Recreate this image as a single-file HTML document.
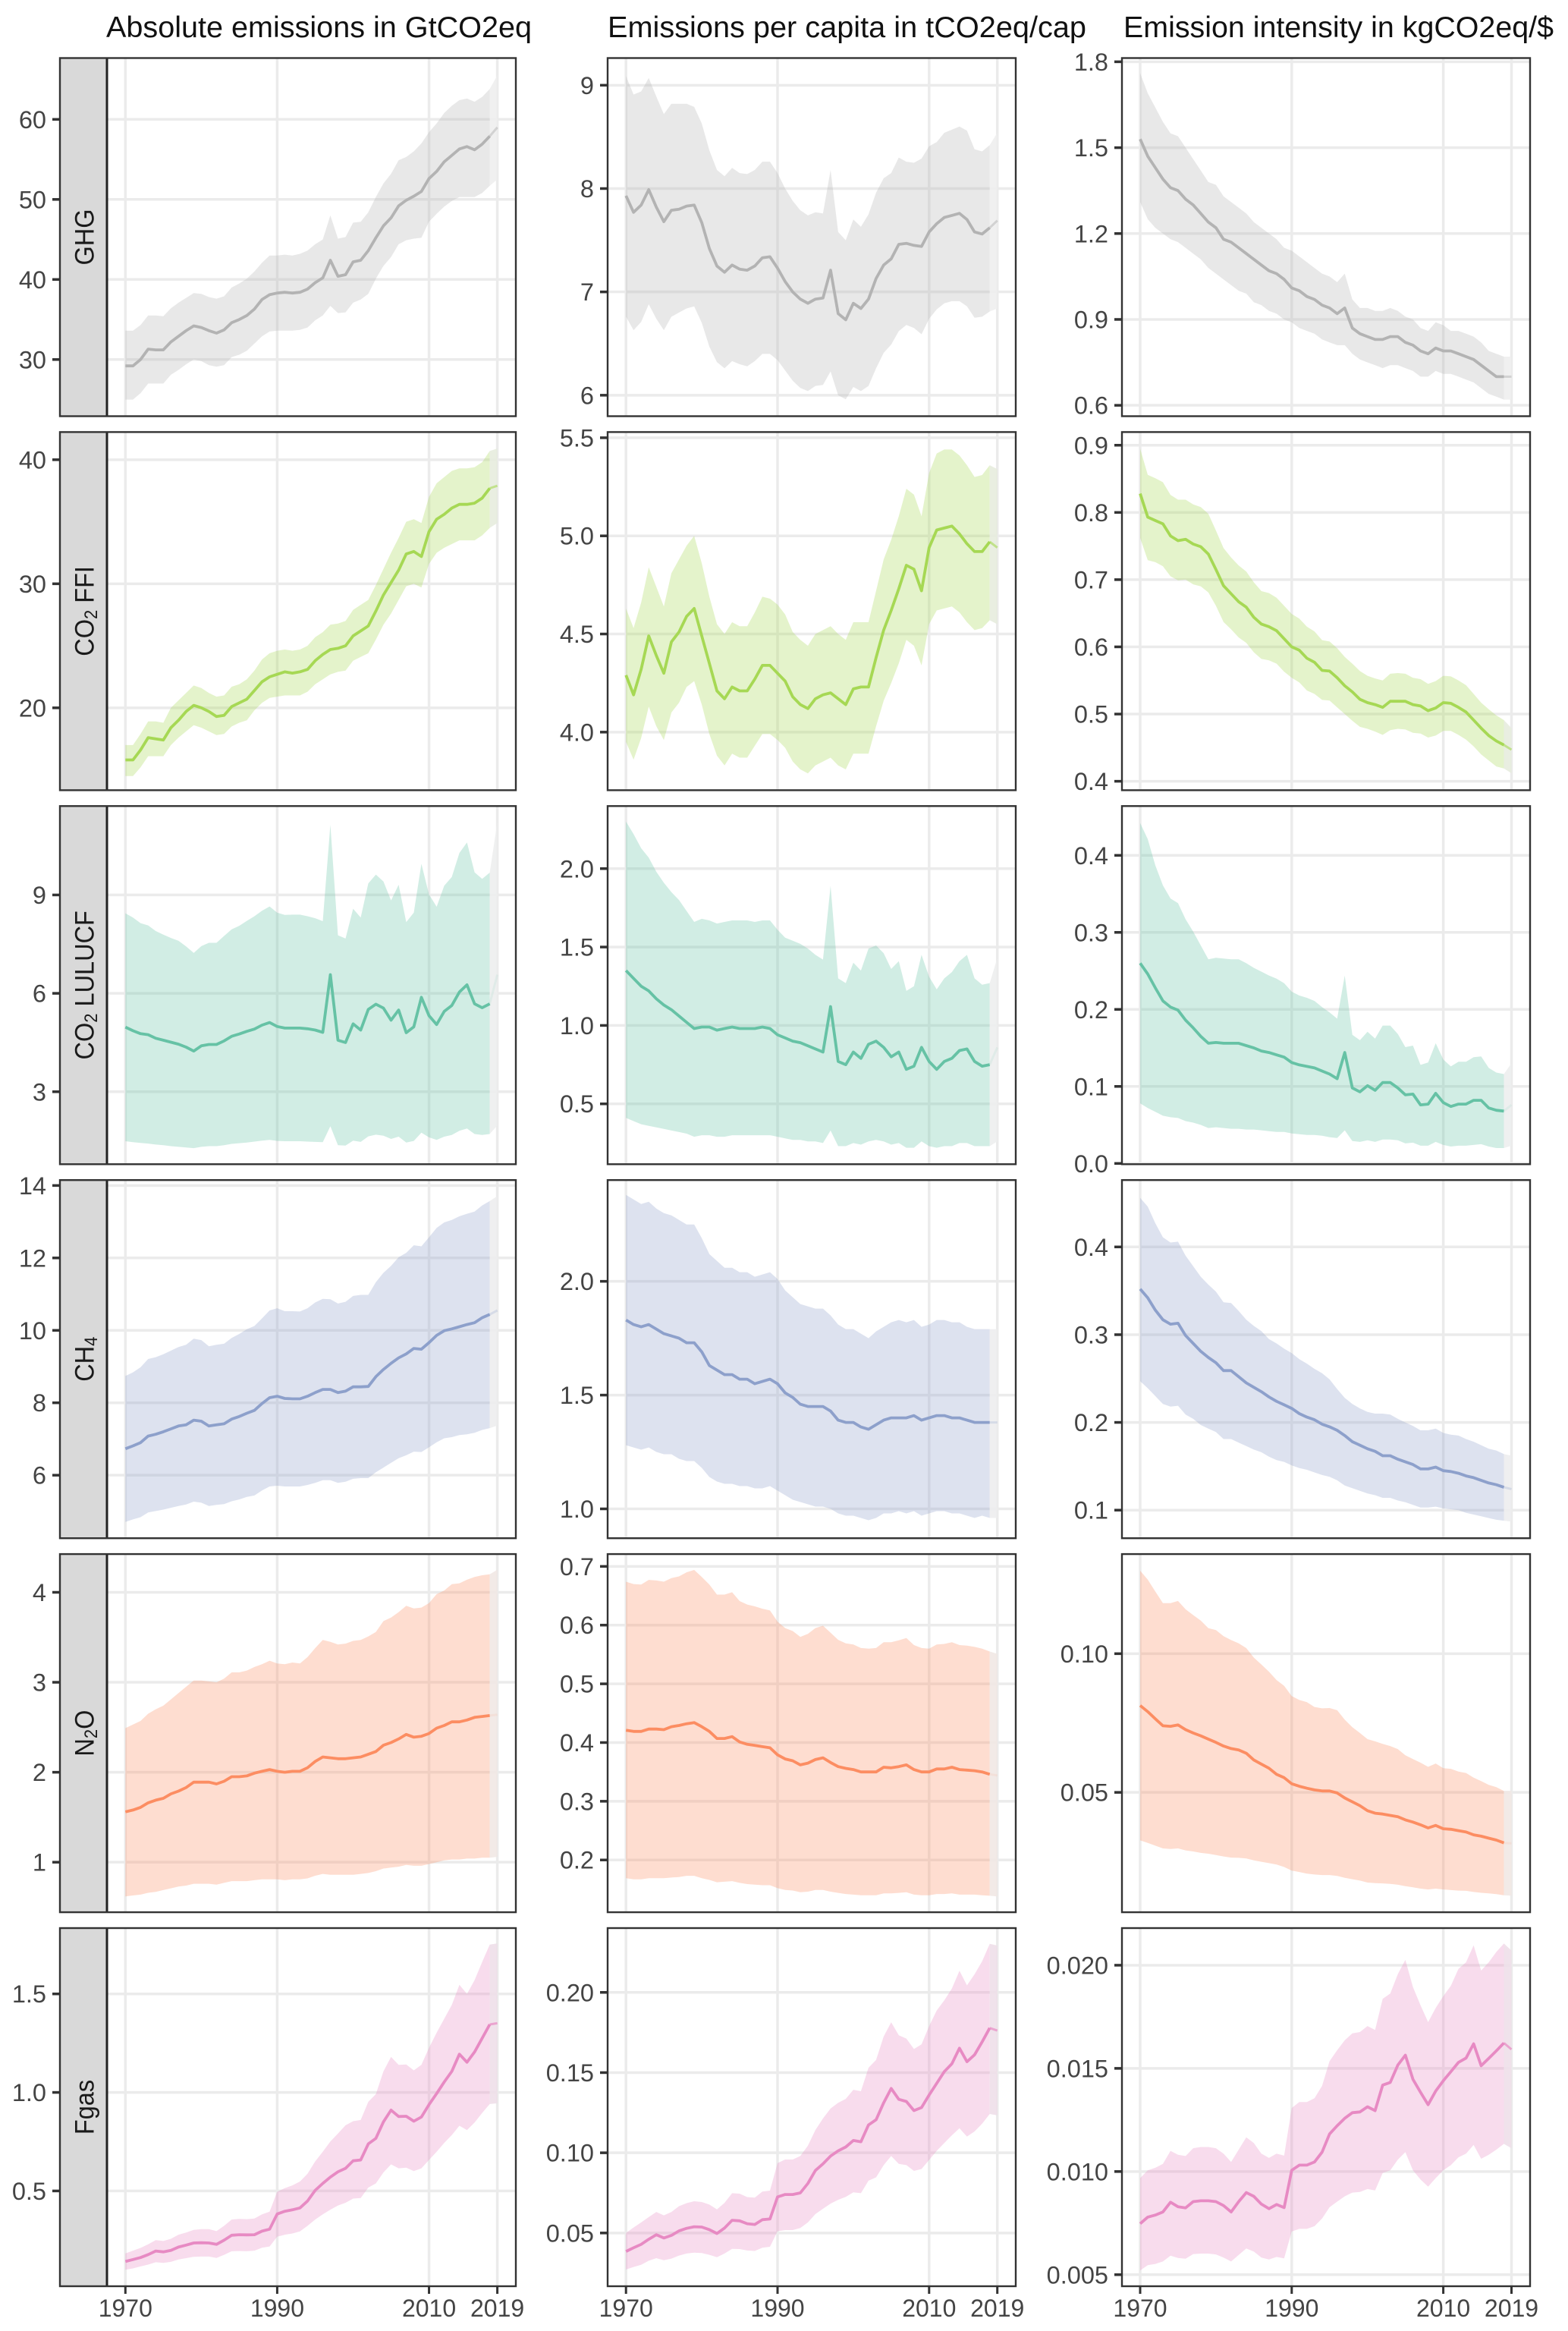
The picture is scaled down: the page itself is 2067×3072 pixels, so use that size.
<!DOCTYPE html>
<html lang="en">
<head>
<meta charset="utf-8">
<title>Emissions by gas, 1970-2019</title>
<style>
html,body{margin:0;padding:0;background:#fff;}
svg{display:block;font-family:"Liberation Sans",Arial,sans-serif;}
</style>
</head>
<body>
<svg id="chart" xmlns="http://www.w3.org/2000/svg" width="2067" height="3072" viewBox="0 0 2067 3072">
<rect x="0" y="0" width="2067" height="3072" fill="#fff"/>
<text x="140" y="49" font-size="39" fill="#111" textLength="561" lengthAdjust="spacingAndGlyphs">Absolute emissions in GtCO2eq</text>
<text x="801" y="49" font-size="39" fill="#111" textLength="631" lengthAdjust="spacingAndGlyphs">Emissions per capita in tCO2eq/cap</text>
<text x="1481" y="49" font-size="39" fill="#111" textLength="567" lengthAdjust="spacingAndGlyphs">Emission intensity in kgCO2eq/$</text>
</svg>
<script>
const years=[1970,1971,1972,1973,1974,1975,1976,1977,1978,1979,1980,1981,1982,1983,1984,1985,1986,1987,1988,1989,1990,1991,1992,1993,1994,1995,1996,1997,1998,1999,2000,2001,2002,2003,2004,2005,2006,2007,2008,2009,2010,2011,2012,2013,2014,2015,2016,2017,2018,2019];
const yearTicks=['1970','1990','2010','2019'];

const ghgAbsMean=[29.2,29.2,30,31.3,31.2,31.2,32.2,32.9,33.6,34.2,34,33.6,33.3,33.7,34.6,35,35.5,36.3,37.5,38.1,38.3,38.4,38.3,38.4,38.8,39.6,40.2,42.4,40.4,40.6,42.2,42.4,43.6,45.2,46.7,47.7,49.2,49.9,50.4,51,52.6,53.5,54.7,55.5,56.3,56.6,56.2,56.9,57.9,59];
const ghgAbsHigh=[33.6,33.6,34.3,35.5,35.5,35.4,36.4,37.1,37.7,38.3,38.2,37.8,37.6,37.9,39,39.5,40.1,41,42.1,43,43,43.1,43,43.2,43.6,44.4,45,48,45.1,45.3,47.1,47.2,48.4,50.3,52,53.2,54.9,55.3,56,57,58.4,59.5,60.8,61.7,62.4,62.6,62.2,62.8,63.8,65.5];
const ghgAbsLow=[25,25,25.8,27,27,27,28.1,28.7,29.4,30,29.8,29.3,29.1,29.3,30.3,30.6,31.1,32,32.9,33.5,33.6,33.6,33.6,33.7,34,34.9,35.5,36.7,35.8,35.9,37.1,37.5,38.2,40.1,41.7,42.8,44.4,44.9,45.1,45.2,47.2,48.2,49.1,49.8,50.3,50.3,50.3,50.8,51.7,52.5];
const ghgAbsDomain=[22.92,67.66];
const ghgAbsTicks=['30','40','50','60'];

const ffiAbsMean=[15.8,15.8,16.6,17.6,17.5,17.4,18.4,19,19.7,20.2,20,19.7,19.3,19.4,20.1,20.4,20.7,21.4,22.1,22.5,22.7,22.9,22.8,22.9,23.1,23.8,24.3,24.7,24.8,25,25.8,26.2,26.6,27.8,29.1,30.1,31.1,32.4,32.6,32.2,34.2,35.2,35.6,36.1,36.4,36.4,36.5,36.9,37.7,37.9];
const ffiAbsHigh=[17,17,17.9,18.9,18.9,18.8,20,20.6,21.2,21.8,21.6,21.2,20.9,21,21.7,21.9,22.3,23,23.9,24.4,24.6,24.7,24.6,24.7,25,25.7,26.1,26.7,26.8,27,27.9,28.3,28.7,29.9,31.2,32.5,33.7,35,35.2,34.9,37,38.1,38.6,39.1,39.3,39.3,39.4,39.8,40.7,40.9];
const ffiAbsLow=[14.5,14.5,15.2,16.1,16.1,16.1,17,17.6,18.1,18.6,18.4,18.1,17.8,17.9,18.5,18.8,19,19.8,20.4,20.8,20.9,21,21,21,21.3,21.9,22.3,22.7,22.9,23,23.8,24.1,24.4,25.5,26.7,27.6,28.7,29.8,30,29.7,31.6,32.5,32.9,33.2,33.5,33.5,33.5,33.9,34.5,34.9];
const ffiAbsDomain=[13.36,42.23];
const ffiAbsTicks=['20','30','40'];

const luAbsMean=[4.97,4.86,4.77,4.74,4.63,4.57,4.51,4.45,4.36,4.24,4.4,4.44,4.44,4.55,4.69,4.76,4.84,4.91,5.03,5.11,4.99,4.94,4.94,4.94,4.92,4.88,4.81,6.57,4.57,4.5,5.07,4.88,5.51,5.67,5.55,5.18,5.49,4.8,4.98,5.88,5.32,5.05,5.45,5.63,6.04,6.26,5.68,5.56,5.68,6.57];
const luAbsHigh=[8.44,8.31,8.14,8.07,7.9,7.79,7.69,7.6,7.43,7.23,7.44,7.54,7.54,7.75,7.95,8.06,8.21,8.35,8.52,8.65,8.46,8.39,8.4,8.4,8.35,8.29,8.2,11.14,7.77,7.67,8.58,8.31,9.35,9.62,9.41,8.83,9.31,8.17,8.46,9.95,9.02,8.64,9.28,9.55,10.28,10.6,9.69,9.49,9.68,11.22];
const luAbsLow=[1.49,1.46,1.44,1.42,1.39,1.37,1.34,1.32,1.3,1.28,1.32,1.34,1.34,1.37,1.41,1.43,1.45,1.48,1.51,1.53,1.5,1.49,1.49,1.49,1.48,1.47,1.46,1.95,1.37,1.36,1.51,1.47,1.64,1.69,1.66,1.56,1.63,1.45,1.5,1.75,1.61,1.53,1.63,1.68,1.81,1.88,1.71,1.68,1.71,1.97];
const luAbsDomain=[0.79,11.71];
const luAbsTicks=['3','6','9'];

const chAbsMean=[6.73,6.81,6.9,7.08,7.13,7.2,7.28,7.36,7.39,7.52,7.49,7.36,7.39,7.42,7.55,7.62,7.71,7.79,7.98,8.14,8.18,8.12,8.11,8.11,8.18,8.28,8.37,8.37,8.28,8.32,8.44,8.44,8.45,8.72,8.92,9.09,9.24,9.35,9.5,9.48,9.66,9.86,9.99,10.04,10.1,10.16,10.21,10.35,10.44,10.55];
const chAbsHigh=[8.74,8.84,8.98,9.21,9.26,9.34,9.44,9.54,9.6,9.77,9.73,9.56,9.6,9.63,9.79,9.9,10.03,10.12,10.33,10.55,10.61,10.53,10.53,10.52,10.61,10.77,10.87,10.86,10.74,10.79,10.95,10.98,10.98,11.33,11.59,11.78,12.02,12.14,12.35,12.32,12.57,12.83,12.98,13.05,13.15,13.22,13.28,13.45,13.57,13.71];
const chAbsLow=[4.71,4.78,4.84,4.97,5.01,5.05,5.1,5.15,5.19,5.27,5.24,5.15,5.18,5.2,5.28,5.33,5.4,5.44,5.58,5.69,5.71,5.69,5.69,5.69,5.73,5.79,5.86,5.86,5.79,5.82,5.9,5.92,5.92,6.08,6.21,6.34,6.47,6.55,6.65,6.64,6.77,6.91,7.02,7.05,7.11,7.13,7.17,7.25,7.3,7.37];
const chAbsDomain=[4.26,14.15];
const chAbsTicks=['6','8','10','12','14'];

const noAbsMean=[1.56,1.58,1.61,1.66,1.69,1.71,1.76,1.79,1.83,1.89,1.89,1.89,1.87,1.9,1.95,1.95,1.96,1.99,2.01,2.03,2.01,2,2.01,2.01,2.05,2.12,2.17,2.16,2.15,2.15,2.16,2.17,2.2,2.23,2.3,2.33,2.37,2.42,2.39,2.4,2.43,2.49,2.52,2.56,2.56,2.58,2.61,2.62,2.63,2.64];
const noAbsHigh=[2.49,2.53,2.57,2.65,2.7,2.74,2.81,2.88,2.95,3.02,3.02,3.01,3,3.04,3.11,3.11,3.13,3.17,3.2,3.24,3.21,3.2,3.22,3.21,3.28,3.38,3.47,3.45,3.42,3.43,3.46,3.47,3.51,3.56,3.68,3.72,3.78,3.85,3.82,3.83,3.88,3.98,4.02,4.09,4.1,4.14,4.17,4.19,4.2,4.25];
const noAbsLow=[0.62,0.63,0.64,0.66,0.67,0.69,0.71,0.73,0.74,0.76,0.76,0.76,0.75,0.77,0.79,0.79,0.79,0.8,0.81,0.81,0.81,0.8,0.81,0.81,0.82,0.85,0.87,0.86,0.86,0.86,0.86,0.87,0.88,0.9,0.93,0.94,0.95,0.97,0.96,0.96,0.98,1,1.02,1.03,1.03,1.04,1.04,1.05,1.05,1.06];
const noAbsDomain=[0.444,4.425];
const noAbsTicks=['1','2','3','4'];

const fgAbsMean=[0.142,0.152,0.162,0.177,0.195,0.191,0.198,0.215,0.225,0.236,0.237,0.236,0.229,0.25,0.275,0.278,0.277,0.278,0.296,0.306,0.383,0.397,0.404,0.414,0.449,0.503,0.538,0.57,0.597,0.615,0.653,0.657,0.739,0.767,0.851,0.91,0.878,0.879,0.854,0.875,0.938,0.994,1.053,1.107,1.194,1.153,1.205,1.275,1.345,1.351];
const fgAbsHigh=[0.183,0.197,0.211,0.229,0.25,0.246,0.257,0.278,0.289,0.302,0.306,0.306,0.296,0.323,0.355,0.358,0.357,0.36,0.381,0.395,0.496,0.514,0.528,0.548,0.587,0.65,0.699,0.751,0.791,0.833,0.854,0.86,0.952,0.992,1.107,1.18,1.14,1.142,1.112,1.14,1.226,1.303,1.374,1.444,1.546,1.5,1.57,1.662,1.75,1.756];
const fgAbsLow=[0.1,0.107,0.117,0.126,0.138,0.135,0.14,0.152,0.159,0.166,0.167,0.167,0.16,0.176,0.194,0.195,0.194,0.197,0.212,0.218,0.268,0.278,0.284,0.295,0.323,0.355,0.381,0.405,0.426,0.44,0.461,0.464,0.517,0.538,0.594,0.635,0.615,0.618,0.601,0.615,0.657,0.699,0.744,0.784,0.831,0.809,0.847,0.896,0.941,0.945];
const fgAbsDomain=[0.0164,1.834];
const fgAbsTicks=['0.5','1.0','1.5'];

const ghgCapMean=[7.93,7.77,7.84,7.99,7.82,7.68,7.79,7.8,7.83,7.84,7.67,7.42,7.25,7.19,7.26,7.22,7.21,7.25,7.33,7.34,7.23,7.1,7,6.93,6.89,6.93,6.94,7.21,6.79,6.73,6.89,6.84,6.93,7.13,7.26,7.32,7.46,7.47,7.45,7.44,7.58,7.66,7.72,7.74,7.76,7.7,7.58,7.56,7.62,7.69];
const ghgCapHigh=[9.09,8.91,8.94,9.07,8.89,8.72,8.82,8.82,8.82,8.79,8.63,8.37,8.18,8.12,8.2,8.15,8.14,8.18,8.26,8.26,8.15,8,7.88,7.79,7.74,7.77,7.76,8.18,7.58,7.5,7.7,7.63,7.75,7.96,8.1,8.15,8.3,8.26,8.25,8.29,8.41,8.45,8.54,8.57,8.6,8.56,8.38,8.36,8.42,8.54];
const ghgCapLow=[6.76,6.63,6.71,6.88,6.74,6.63,6.76,6.8,6.84,6.86,6.7,6.47,6.32,6.26,6.33,6.3,6.28,6.33,6.4,6.4,6.34,6.24,6.14,6.07,6.04,6.09,6.1,6.23,6,5.96,6.08,6.04,6.09,6.26,6.41,6.49,6.62,6.68,6.65,6.59,6.74,6.83,6.89,6.91,6.91,6.86,6.75,6.76,6.81,6.84];
const ghgCapDomain=[5.797,9.263];
const ghgCapTicks=['6','7','8','9'];

const ffiCapMean=[4.29,4.19,4.32,4.49,4.39,4.3,4.46,4.51,4.59,4.63,4.49,4.35,4.21,4.17,4.23,4.21,4.21,4.27,4.34,4.34,4.3,4.26,4.18,4.14,4.12,4.17,4.19,4.2,4.17,4.14,4.22,4.23,4.23,4.38,4.52,4.62,4.73,4.85,4.83,4.72,4.94,5.03,5.04,5.05,5.01,4.96,4.92,4.92,4.97,4.94];
const ffiCapHigh=[4.63,4.53,4.66,4.84,4.74,4.64,4.81,4.88,4.95,5,4.86,4.69,4.55,4.5,4.56,4.54,4.54,4.61,4.69,4.68,4.65,4.6,4.51,4.47,4.44,4.5,4.52,4.54,4.5,4.47,4.56,4.56,4.56,4.72,4.88,4.98,5.1,5.24,5.21,5.1,5.32,5.42,5.44,5.44,5.41,5.36,5.3,5.31,5.36,5.34];
const ffiCapLow=[3.95,3.86,3.97,4.13,4.03,3.96,4.1,4.15,4.23,4.26,4.14,3.99,3.88,3.83,3.89,3.87,3.87,3.93,3.99,3.99,3.96,3.92,3.85,3.81,3.79,3.83,3.85,3.87,3.83,3.81,3.89,3.89,3.89,4.03,4.16,4.25,4.35,4.47,4.44,4.34,4.55,4.62,4.63,4.64,4.61,4.56,4.52,4.53,4.57,4.55];
const ffiCapDomain=[3.704,5.529];
const ffiCapTicks=['4.0','4.5','5.0','5.5'];

const luCapMean=[1.35,1.3,1.25,1.22,1.17,1.13,1.1,1.06,1.02,0.98,0.99,0.99,0.97,0.98,0.99,0.98,0.98,0.98,0.99,0.98,0.94,0.92,0.9,0.89,0.87,0.85,0.83,1.12,0.77,0.75,0.83,0.79,0.88,0.9,0.86,0.8,0.83,0.72,0.74,0.86,0.77,0.72,0.77,0.79,0.84,0.85,0.77,0.74,0.75,0.86];
const luCapHigh=[2.3,2.22,2.13,2.07,1.98,1.91,1.85,1.8,1.73,1.66,1.68,1.67,1.65,1.66,1.67,1.67,1.67,1.66,1.67,1.67,1.61,1.56,1.54,1.52,1.49,1.45,1.42,1.89,1.3,1.27,1.4,1.35,1.49,1.51,1.46,1.36,1.41,1.22,1.25,1.45,1.31,1.23,1.3,1.34,1.41,1.45,1.3,1.26,1.27,1.43];
const luCapLow=[0.41,0.39,0.37,0.36,0.35,0.34,0.33,0.32,0.31,0.29,0.3,0.3,0.29,0.29,0.3,0.3,0.3,0.3,0.3,0.3,0.29,0.28,0.27,0.27,0.26,0.26,0.25,0.33,0.23,0.23,0.25,0.24,0.26,0.27,0.26,0.24,0.25,0.22,0.22,0.26,0.23,0.22,0.23,0.23,0.25,0.25,0.23,0.23,0.23,0.26];
const luCapDomain=[0.115,2.399];
const luCapTicks=['0.5','1.0','1.5','2.0'];

const chCapMean=[1.83,1.81,1.8,1.81,1.79,1.77,1.76,1.75,1.73,1.73,1.69,1.63,1.61,1.59,1.59,1.57,1.57,1.55,1.56,1.57,1.55,1.51,1.49,1.46,1.45,1.45,1.45,1.43,1.39,1.38,1.38,1.36,1.35,1.37,1.39,1.4,1.4,1.4,1.41,1.39,1.4,1.41,1.41,1.4,1.4,1.39,1.38,1.38,1.38,1.38];
const chCapHigh=[2.38,2.36,2.34,2.35,2.32,2.3,2.29,2.27,2.25,2.25,2.19,2.12,2.09,2.06,2.06,2.04,2.04,2.02,2.03,2.04,2.01,1.96,1.93,1.9,1.89,1.88,1.88,1.85,1.81,1.79,1.79,1.77,1.75,1.78,1.8,1.82,1.83,1.82,1.83,1.8,1.81,1.83,1.83,1.82,1.82,1.8,1.79,1.79,1.79,1.79];
const chCapLow=[1.28,1.27,1.26,1.27,1.25,1.24,1.24,1.22,1.21,1.21,1.18,1.14,1.12,1.11,1.11,1.1,1.1,1.09,1.09,1.1,1.08,1.06,1.04,1.03,1.02,1.01,1.01,1,0.98,0.97,0.97,0.96,0.95,0.96,0.98,0.98,0.99,0.98,0.99,0.97,0.98,0.99,0.99,0.98,0.98,0.97,0.96,0.97,0.96,0.96];
const chCapDomain=[0.871,2.445];
const chCapTicks=['1.0','1.5','2.0'];

const noCapMean=[0.421,0.419,0.419,0.423,0.423,0.422,0.427,0.429,0.432,0.434,0.427,0.419,0.407,0.407,0.41,0.401,0.397,0.395,0.393,0.391,0.379,0.372,0.369,0.362,0.365,0.371,0.374,0.366,0.359,0.356,0.354,0.35,0.35,0.35,0.358,0.357,0.359,0.362,0.354,0.35,0.35,0.355,0.355,0.358,0.354,0.353,0.352,0.35,0.346,0.344];
const noCapHigh=[0.674,0.67,0.669,0.677,0.676,0.674,0.68,0.683,0.69,0.694,0.682,0.669,0.652,0.652,0.656,0.641,0.635,0.632,0.628,0.625,0.606,0.595,0.59,0.58,0.585,0.595,0.599,0.587,0.575,0.569,0.567,0.561,0.56,0.561,0.571,0.571,0.574,0.578,0.566,0.561,0.56,0.567,0.568,0.571,0.566,0.565,0.563,0.56,0.555,0.551];
const noCapLow=[0.169,0.167,0.167,0.169,0.169,0.169,0.17,0.171,0.173,0.173,0.169,0.166,0.162,0.163,0.164,0.161,0.159,0.158,0.157,0.157,0.152,0.149,0.148,0.145,0.146,0.149,0.149,0.146,0.144,0.142,0.141,0.14,0.14,0.14,0.143,0.143,0.144,0.145,0.141,0.14,0.14,0.142,0.142,0.143,0.141,0.141,0.141,0.14,0.139,0.138];
const noCapDomain=[0.111,0.721];
const noCapTicks=['0.2','0.3','0.4','0.5','0.6','0.7'];

const fgCapMean=[0.0385,0.0408,0.0429,0.0461,0.0489,0.0469,0.0485,0.0513,0.0529,0.0539,0.0537,0.0521,0.0497,0.0531,0.0579,0.0576,0.0558,0.0553,0.0583,0.0587,0.0725,0.074,0.074,0.075,0.0809,0.089,0.0931,0.098,0.1012,0.1036,0.1077,0.1069,0.1174,0.1206,0.1312,0.1401,0.1333,0.132,0.1263,0.1282,0.136,0.1433,0.1506,0.1555,0.1652,0.1568,0.1611,0.1692,0.1778,0.1762];
const fgCapHigh=[0.05,0.0534,0.0566,0.0599,0.0631,0.061,0.0631,0.0667,0.0686,0.0698,0.0693,0.0677,0.0647,0.0688,0.0748,0.0745,0.0724,0.072,0.0758,0.0764,0.0936,0.0958,0.0958,0.098,0.1044,0.1142,0.1214,0.1276,0.1312,0.1336,0.1393,0.1384,0.153,0.1579,0.1725,0.1814,0.1733,0.1712,0.1647,0.1676,0.179,0.1887,0.195,0.2024,0.2135,0.2044,0.2113,0.2194,0.2303,0.2292];
const fgCapLow=[0.0272,0.0288,0.0302,0.0327,0.0343,0.033,0.034,0.0359,0.0372,0.0377,0.0375,0.0364,0.0349,0.0372,0.0401,0.04,0.0391,0.0388,0.0408,0.0414,0.0511,0.0518,0.0518,0.0531,0.0566,0.0618,0.0651,0.0683,0.0707,0.0725,0.0753,0.0748,0.0826,0.0847,0.0923,0.098,0.0931,0.0923,0.0887,0.0899,0.0955,0.1012,0.1061,0.1109,0.1153,0.1101,0.1133,0.1182,0.1242,0.1234];
const fgCapDomain=[0.0168,0.2401];
const fgCapTicks=['0.05','0.10','0.15','0.20'];

const ghgIntMean=[1.53,1.47,1.43,1.39,1.36,1.35,1.32,1.3,1.27,1.24,1.22,1.18,1.17,1.15,1.13,1.11,1.09,1.07,1.06,1.04,1.01,1,0.98,0.97,0.95,0.94,0.92,0.94,0.87,0.85,0.84,0.83,0.83,0.84,0.84,0.82,0.81,0.79,0.78,0.8,0.79,0.79,0.78,0.77,0.76,0.74,0.72,0.7,0.7,0.7];
const ghgIntHigh=[1.76,1.69,1.64,1.59,1.55,1.54,1.5,1.46,1.42,1.38,1.37,1.33,1.31,1.29,1.27,1.24,1.22,1.2,1.18,1.15,1.14,1.12,1.1,1.08,1.06,1.05,1.03,1.06,0.97,0.94,0.94,0.93,0.93,0.94,0.93,0.91,0.9,0.87,0.86,0.89,0.88,0.86,0.86,0.85,0.84,0.82,0.79,0.78,0.77,0.77];
const ghgIntLow=[1.31,1.25,1.22,1.2,1.18,1.17,1.15,1.13,1.11,1.08,1.06,1.04,1.02,1,0.99,0.96,0.95,0.93,0.92,0.9,0.89,0.87,0.86,0.85,0.83,0.82,0.81,0.81,0.78,0.76,0.75,0.74,0.73,0.74,0.74,0.73,0.72,0.7,0.7,0.72,0.71,0.71,0.7,0.69,0.68,0.66,0.64,0.63,0.62,0.62];
const ghgIntDomain=[0.562,1.813];
const ghgIntTicks=['0.6','0.9','1.2','1.5','1.8'];

const ffiIntMean=[0.828,0.793,0.788,0.783,0.765,0.758,0.76,0.753,0.749,0.738,0.715,0.691,0.679,0.667,0.659,0.644,0.634,0.63,0.624,0.612,0.6,0.595,0.583,0.577,0.565,0.564,0.554,0.542,0.533,0.522,0.517,0.514,0.51,0.519,0.519,0.519,0.514,0.512,0.505,0.509,0.517,0.516,0.51,0.503,0.491,0.479,0.468,0.46,0.454,0.447];
const ffiIntHigh=[0.895,0.856,0.851,0.845,0.826,0.819,0.819,0.812,0.808,0.798,0.773,0.747,0.733,0.721,0.712,0.696,0.683,0.68,0.673,0.661,0.649,0.642,0.63,0.623,0.61,0.608,0.598,0.585,0.575,0.564,0.557,0.553,0.55,0.56,0.561,0.56,0.554,0.552,0.545,0.549,0.557,0.556,0.55,0.543,0.53,0.517,0.507,0.498,0.491,0.479];
const ffiIntLow=[0.762,0.729,0.726,0.72,0.705,0.699,0.7,0.693,0.69,0.681,0.661,0.637,0.626,0.614,0.606,0.592,0.582,0.58,0.575,0.563,0.554,0.547,0.535,0.53,0.521,0.52,0.51,0.5,0.49,0.481,0.478,0.474,0.469,0.476,0.478,0.477,0.472,0.471,0.465,0.468,0.475,0.475,0.469,0.462,0.452,0.44,0.431,0.422,0.419,0.412];
const ffiIntDomain=[0.3867,0.9196];
const ffiIntTicks=['0.4','0.5','0.6','0.7','0.8','0.9'];

const luIntMean=[0.26,0.246,0.228,0.211,0.203,0.199,0.186,0.176,0.165,0.156,0.157,0.156,0.156,0.156,0.153,0.15,0.146,0.144,0.141,0.138,0.131,0.128,0.126,0.124,0.12,0.116,0.11,0.144,0.098,0.093,0.101,0.095,0.105,0.105,0.098,0.089,0.09,0.076,0.077,0.091,0.079,0.074,0.077,0.077,0.082,0.082,0.072,0.069,0.068,0.076];
const luIntHigh=[0.442,0.421,0.387,0.361,0.344,0.338,0.317,0.301,0.283,0.265,0.267,0.266,0.265,0.265,0.26,0.254,0.249,0.244,0.24,0.234,0.223,0.218,0.215,0.211,0.203,0.196,0.188,0.244,0.167,0.16,0.171,0.162,0.179,0.179,0.168,0.151,0.153,0.128,0.131,0.156,0.135,0.126,0.132,0.132,0.138,0.139,0.124,0.118,0.116,0.13];
const luIntLow=[0.078,0.072,0.067,0.062,0.06,0.059,0.055,0.053,0.05,0.046,0.047,0.046,0.045,0.045,0.044,0.044,0.043,0.042,0.041,0.041,0.039,0.038,0.037,0.037,0.036,0.034,0.033,0.043,0.029,0.028,0.03,0.028,0.031,0.031,0.03,0.026,0.027,0.023,0.023,0.028,0.024,0.022,0.023,0.023,0.024,0.025,0.022,0.02,0.02,0.023];
const luIntDomain=[-0.001,0.464];
const luIntTicks=['0.0','0.1','0.2','0.3','0.4'];

const chIntMean=[0.352,0.342,0.328,0.317,0.312,0.313,0.299,0.29,0.281,0.274,0.268,0.259,0.259,0.252,0.245,0.24,0.235,0.229,0.224,0.22,0.216,0.21,0.206,0.203,0.198,0.195,0.191,0.185,0.178,0.174,0.17,0.167,0.162,0.162,0.158,0.155,0.152,0.147,0.147,0.149,0.145,0.144,0.142,0.139,0.137,0.134,0.131,0.129,0.126,0.124];
const chIntHigh=[0.456,0.446,0.427,0.411,0.405,0.406,0.39,0.378,0.366,0.357,0.349,0.337,0.336,0.327,0.317,0.31,0.304,0.295,0.29,0.284,0.279,0.272,0.267,0.261,0.256,0.249,0.238,0.228,0.221,0.216,0.212,0.21,0.21,0.209,0.204,0.2,0.196,0.191,0.191,0.193,0.188,0.186,0.185,0.181,0.178,0.174,0.17,0.168,0.164,0.162];
const chIntLow=[0.247,0.239,0.23,0.221,0.218,0.219,0.209,0.204,0.197,0.193,0.189,0.181,0.181,0.177,0.173,0.169,0.166,0.161,0.157,0.155,0.151,0.148,0.146,0.143,0.14,0.138,0.134,0.128,0.125,0.122,0.119,0.117,0.114,0.114,0.111,0.109,0.106,0.103,0.103,0.104,0.102,0.101,0.1,0.097,0.095,0.093,0.091,0.089,0.088,0.087];
const chIntDomain=[0.068,0.4762];
const chIntTicks=['0.1','0.2','0.3','0.4'];

const noIntMean=[0.0813,0.0791,0.0765,0.074,0.0738,0.0743,0.0726,0.0714,0.0704,0.0692,0.068,0.0667,0.0658,0.0653,0.0641,0.0617,0.0602,0.0587,0.0565,0.0553,0.0531,0.0522,0.0515,0.0509,0.0505,0.0505,0.0498,0.048,0.0466,0.0452,0.0434,0.0425,0.0422,0.0417,0.0412,0.0401,0.0393,0.0383,0.0372,0.0381,0.0369,0.0367,0.0362,0.0357,0.0347,0.0342,0.0335,0.0328,0.0318,0.0316];
const noIntHigh=[0.1299,0.1267,0.1224,0.1182,0.1182,0.119,0.116,0.1139,0.1119,0.1092,0.1085,0.1063,0.1049,0.1037,0.102,0.0986,0.0961,0.0935,0.0905,0.0884,0.0847,0.0833,0.0825,0.0808,0.0803,0.0804,0.0796,0.0762,0.0735,0.0714,0.0692,0.0684,0.0675,0.0667,0.0656,0.0634,0.062,0.0607,0.0592,0.0604,0.0587,0.0585,0.0575,0.057,0.0553,0.0541,0.0527,0.0519,0.0505,0.0505];
const noIntLow=[0.0327,0.0318,0.0308,0.0298,0.0296,0.0298,0.0291,0.0287,0.0282,0.0279,0.0274,0.0269,0.0265,0.0264,0.0262,0.0255,0.025,0.0245,0.024,0.0231,0.0218,0.0213,0.0207,0.0204,0.0202,0.0202,0.0199,0.0192,0.0187,0.0182,0.0175,0.0173,0.0172,0.017,0.0167,0.0162,0.0158,0.0153,0.015,0.0153,0.015,0.0148,0.0146,0.0145,0.0141,0.0138,0.0136,0.0133,0.0129,0.0128];
const noIntDomain=[0.0068,0.1359];
const noIntTicks=['0.05','0.10'];

const fgIntMean=[0.00747,0.00779,0.00789,0.00804,0.00851,0.00829,0.00824,0.00854,0.00858,0.00858,0.00854,0.00835,0.00804,0.00854,0.00898,0.0088,0.00842,0.0082,0.0084,0.00825,0.01006,0.01031,0.01031,0.01046,0.01094,0.01182,0.01222,0.01258,0.01285,0.01289,0.01314,0.01295,0.01419,0.01432,0.01516,0.01564,0.01447,0.01384,0.01324,0.0139,0.0144,0.01484,0.01529,0.0155,0.01619,0.01513,0.01548,0.01585,0.01623,0.01592];
const fgIntHigh=[0.00968,0.01006,0.01018,0.01037,0.011,0.01081,0.01075,0.01113,0.01119,0.01119,0.01113,0.01087,0.01046,0.01106,0.01166,0.01138,0.01087,0.01066,0.01087,0.01077,0.01308,0.01337,0.01337,0.01355,0.01415,0.01535,0.01588,0.01636,0.0167,0.01676,0.01705,0.01686,0.01837,0.01863,0.01957,0.02026,0.01894,0.01806,0.01724,0.01793,0.0185,0.019,0.01982,0.02014,0.02096,0.01974,0.02014,0.02064,0.02105,0.02071];
const fgIntLow=[0.0052,0.00546,0.00552,0.00564,0.00592,0.00581,0.00577,0.006,0.00602,0.00602,0.00598,0.00583,0.00564,0.00596,0.00627,0.00612,0.00583,0.00574,0.00586,0.00579,0.00709,0.00722,0.00722,0.00735,0.00772,0.00827,0.00854,0.0088,0.00898,0.00901,0.00915,0.00908,0.00993,0.01006,0.01058,0.01094,0.01006,0.00961,0.00927,0.00968,0.01006,0.01031,0.01069,0.01087,0.01129,0.01062,0.01081,0.01106,0.01134,0.01113];
const fgIntDomain=[0.00444,0.0218];
const fgIntTicks=['0.005','0.010','0.015','0.020'];

const gasNames=['ghg','co2-ffi','co2-lulucf','ch4','n2o','fgas'];
const gasLabels=[['GHG','',''],['CO','2',' FFI'],['CO','2',' LULUCF'],['CH','4',''],['N','2','O'],['Fgas','','']];
const metricNames=['absolute','per-capita','intensity'];
const gasColors=['#b3b3b3','#a6d854','#66c2a5','#8da0cb','#fc8d62','#e78ac3'];
const finalYearTint=[0.02,0.1,0.01,0.02,0.07,0.14];
const finalLineFade=[0.5,0.6,0.1,0.25,0.1,0.7];

const panelGrid=[
 [[ghgAbsMean,ghgAbsLow,ghgAbsHigh,ghgAbsDomain,ghgAbsTicks],[ghgCapMean,ghgCapLow,ghgCapHigh,ghgCapDomain,ghgCapTicks],[ghgIntMean,ghgIntLow,ghgIntHigh,ghgIntDomain,ghgIntTicks]],
 [[ffiAbsMean,ffiAbsLow,ffiAbsHigh,ffiAbsDomain,ffiAbsTicks],[ffiCapMean,ffiCapLow,ffiCapHigh,ffiCapDomain,ffiCapTicks],[ffiIntMean,ffiIntLow,ffiIntHigh,ffiIntDomain,ffiIntTicks]],
 [[luAbsMean,luAbsLow,luAbsHigh,luAbsDomain,luAbsTicks],[luCapMean,luCapLow,luCapHigh,luCapDomain,luCapTicks],[luIntMean,luIntLow,luIntHigh,luIntDomain,luIntTicks]],
 [[chAbsMean,chAbsLow,chAbsHigh,chAbsDomain,chAbsTicks],[chCapMean,chCapLow,chCapHigh,chCapDomain,chCapTicks],[chIntMean,chIntLow,chIntHigh,chIntDomain,chIntTicks]],
 [[noAbsMean,noAbsLow,noAbsHigh,noAbsDomain,noAbsTicks],[noCapMean,noCapLow,noCapHigh,noCapDomain,noCapTicks],[noIntMean,noIntLow,noIntHigh,noIntDomain,noIntTicks]],
 [[fgAbsMean,fgAbsLow,fgAbsHigh,fgAbsDomain,fgAbsTicks],[fgCapMean,fgCapLow,fgCapHigh,fgCapDomain,fgCapTicks],[fgIntMean,fgIntLow,fgIntHigh,fgIntDomain,fgIntTicks]]
];

(function(){
 const NS='http://www.w3.org/2000/svg';
 const svg=document.getElementById('chart');
 const frameLeft=[79,801,1479], frameRight=[680,1339,2017];
 const x1970=[165.3,825.2,1503], x2019=[655.6,1314.7,1992.5];
 const rowTop=492.9, firstTop=76.5, panelH=472, stripRight=141;
 function el(tag,attrs,parent){
  const e=document.createElementNS(NS,tag);
  for(const k in attrs){e.setAttribute(k,attrs[k]);}
  parent.appendChild(e);
  return e;
 }
 function poly(xs,ys){
  return xs.map((x,i)=>(i?'L':'M')+x.toFixed(1)+' '+ys[i].toFixed(1)).join('');
 }
 panelGrid.forEach((row,r)=>{
  row.forEach((cell,c)=>{
   const mean=cell[0],low=cell[1],high=cell[2],domain=cell[3],ticks=cell[4];
   const top=firstTop+rowTop*r, bottom=top+panelH;
   const left=frameLeft[c], right=frameRight[c];
   const innerLeft=c===0?stripRight:left;
   const color=gasColors[r];
   const xScale=y=>x1970[c]+(y-1970)*(x2019[c]-x1970[c])/49;
   const yScale=v=>bottom-(v-domain[0])/(domain[1]-domain[0])*panelH;
   const g=el('g',{},svg);
   
   
   ticks.forEach(t=>{
    const y=yScale(Number(t));
    const grid=el('line',{x1:innerLeft,x2:right,y1:y,y2:y,stroke:'#ebebeb','stroke-width':3.5},g);
    
    
    const mark=el('line',{x1:left-10,x2:left,y1:y,y2:y,stroke:'#333','stroke-width':3.5},g);
    
    
    const lab=el('text',{x:left-18,y:y+11.5,'text-anchor':'end','font-size':32.5,fill:'#444'},g);
    lab.textContent=t;
    
    
   });
   yearTicks.forEach(t=>{
    const x=xScale(Number(t));
    const grid=el('line',{x1:x,x2:x,y1:top+1,y2:bottom,stroke:'#ebebeb','stroke-width':3.5},g);
    
    
    if(r===panelGrid.length-1){
     const mark=el('line',{x1:x,x2:x,y1:bottom,y2:bottom+10,stroke:'#333','stroke-width':3},g);
     
     
     const lab=el('text',{x:x,y:bottom+40,'text-anchor':'middle','font-size':32,fill:'#444'},g);
     lab.textContent=t;
     
     
    }
   });
   const n=years.length;
   const xs=years.map(xScale), hi=high.map(yScale), lo=low.map(yScale), me=mean.map(yScale);
   const mainX=xs.slice(0,n-1);
   const ribbonD=poly(mainX.concat(mainX.slice().reverse()),hi.slice(0,n-1).concat(lo.slice(0,n-1).reverse()))+'Z';
   const ribbon=el('path',{d:ribbonD,fill:color,'fill-opacity':0.3},g);
   
   
   const lastX=[xs[n-2],xs[n-1],xs[n-1],xs[n-2]];
   const lastY=[hi[n-2],hi[n-1],lo[n-1],lo[n-2]];
   const lastGrey=el('path',{d:poly(lastX,lastY)+'Z',fill:'#f0f0f0','fill-opacity':0.9},g);
   
   
   const lastTint=el('path',{d:poly(lastX,lastY)+'Z',fill:color,'fill-opacity':finalYearTint[r]},g);
   
   
   const line=el('path',{d:poly(mainX,me.slice(0,n-1)),fill:'none',stroke:color,'stroke-width':3.8,'stroke-linejoin':'round'},g);
   
   
   const lastLine=el('path',{d:poly(xs.slice(n-2),me.slice(n-2)),fill:'none',stroke:color,'stroke-width':3,'stroke-opacity':finalLineFade[r]},g);
   
   
   if(c===0){
    const strip=el('rect',{x:left,y:top,width:stripRight-left,height:panelH,fill:'#d9d9d9'},g);
    
    
    const sep=el('line',{x1:stripRight,x2:stripRight,y1:top,y2:bottom,stroke:'#222','stroke-width':3},g);
    
    
    const parts=gasLabels[r];
    const txt=el('text',{transform:'translate(123.5 '+(top+panelH/2)+') scale(1.08 1) rotate(-90)','text-anchor':'middle','font-size':32.5,fill:'#1a1a1a'},g);
    
    
    const a=el('tspan',{},txt);
    a.textContent=parts[0];
    if(parts[1]){
     const s=el('tspan',{'font-size':22,dy:4},txt);
     s.textContent=parts[1];
     if(parts[2]){
      const t=el('tspan',{dy:-4},txt);
      t.textContent=parts[2].replace(' ','\u00a0');
     }
    }
   }
   const frame=el('rect',{x:left,y:top,width:right-left,height:panelH,fill:'none',stroke:'#333','stroke-width':2.4},g);
   
   
  });
 });
})();
</script>
</body>
</html>
